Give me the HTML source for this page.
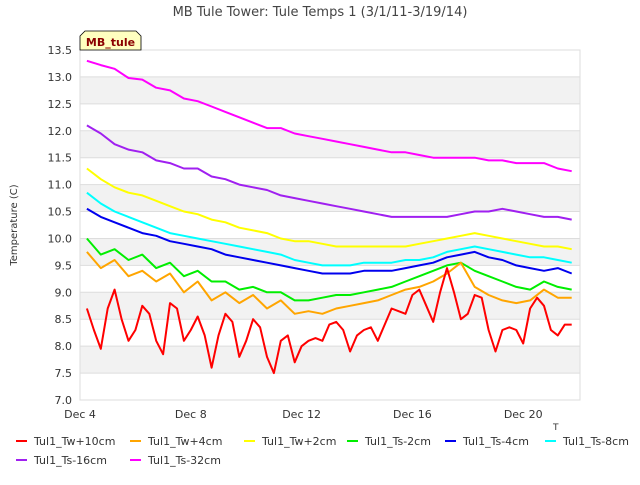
<!DOCTYPE html>
<html><head><meta charset="utf-8"><style>
body{margin:0;background:#fff;font-family:"Liberation Sans","DejaVu Sans",sans-serif}
svg text{font-family:"DejaVu Sans","Liberation Sans",sans-serif}
</style></head><body>
<svg id="c" width="640" height="480" xmlns="http://www.w3.org/2000/svg">
<rect width="640" height="480" fill="#fff"/>
<text x="320" y="16" text-anchor="middle" font-size="13" fill="#444">MB Tule Tower: Tule Temps 1 (3/1/11-3/19/14)</text>
<text transform="translate(17,225) rotate(-90)" text-anchor="middle" font-size="10" fill="#333">Temperature (C)</text>
<g id="grid"></g>
<g id="series"></g>
<g id="legend"></g>
<g>
<path d="M80,50 L80,36 L85,31 L136,31 L141,36 L141,50 Z" fill="#ffffc0" stroke="#000" stroke-width="0.8"/>
<text x="110.5" y="46" text-anchor="middle" font-size="11" font-weight="bold" fill="#8b0000">MB_tule</text>
</g>
<text x="553" y="430" font-size="9" fill="#333">T</text>
</svg>
<script>
const yTicks=[7.0,7.5,8.0,8.5,9.0,9.5,10.0,10.5,11.0,11.5,12.0,12.5,13.0,13.5];
const xTickDays=[0,4,8,12,16];
const xTickLabels=["Dec 4","Dec 8","Dec 12","Dec 16","Dec 20"];
const seriesNames=["Tul1_Tw+10cm","Tul1_Tw+4cm","Tul1_Tw+2cm","Tul1_Ts-2cm","Tul1_Ts-4cm","Tul1_Ts-8cm","Tul1_Ts-16cm","Tul1_Ts-32cm"];
const seriesColors=["#ff0000","#ffa500","#ffff00","#00ee00","#0000ee","#00ffff","#a020f0","#ff00ff"];
const redStart=0.25, redStep=0.25;
const redVals=[8.7,8.3,7.95,8.7,9.05,8.5,8.1,8.3,8.75,8.6,8.1,7.85,8.8,8.7,8.1,8.3,8.55,8.2,7.6,8.2,8.6,8.45,7.8,8.1,8.5,8.35,7.8,7.5,8.1,8.2,7.7,8.0,8.1,8.15,8.1,8.4,8.45,8.3,7.9,8.2,8.3,8.35,8.1,8.4,8.7,8.65,8.6,8.95,9.05,8.75,8.45,9.0,9.45,9.0,8.5,8.6,8.95,8.9,8.3,7.9,8.3,8.35,8.3,8.05,8.7,8.9,8.75,8.3,8.2,8.4,8.4];
const otherStart=0.25, otherStep=0.5;
const tw4=[9.75,9.45,9.6,9.3,9.4,9.2,9.35,9.0,9.2,8.85,9.0,8.8,8.95,8.7,8.85,8.6,8.65,8.6,8.7,8.75,8.8,8.85,8.95,9.05,9.1,9.2,9.35,9.55,9.1,8.95,8.85,8.8,8.85,9.05,8.9,8.9];
const tw2=[11.3,11.1,10.95,10.85,10.8,10.7,10.6,10.5,10.45,10.35,10.3,10.2,10.15,10.1,10.0,9.95,9.95,9.9,9.85,9.85,9.85,9.85,9.85,9.85,9.9,9.95,10.0,10.05,10.1,10.05,10.0,9.95,9.9,9.85,9.85,9.8];
const ts2=[10.0,9.7,9.8,9.6,9.7,9.45,9.55,9.3,9.4,9.2,9.2,9.05,9.1,9.0,9.0,8.85,8.85,8.9,8.95,8.95,9.0,9.05,9.1,9.2,9.3,9.4,9.5,9.55,9.4,9.3,9.2,9.1,9.05,9.2,9.1,9.05];
const ts4=[10.55,10.4,10.3,10.2,10.1,10.05,9.95,9.9,9.85,9.8,9.7,9.65,9.6,9.55,9.5,9.45,9.4,9.35,9.35,9.35,9.4,9.4,9.4,9.45,9.5,9.55,9.65,9.7,9.75,9.65,9.6,9.5,9.45,9.4,9.45,9.35];
const ts8=[10.85,10.65,10.5,10.4,10.3,10.2,10.1,10.05,10.0,9.95,9.9,9.85,9.8,9.75,9.7,9.6,9.55,9.5,9.5,9.5,9.55,9.55,9.55,9.6,9.6,9.65,9.75,9.8,9.85,9.8,9.75,9.7,9.65,9.65,9.6,9.55];
const ts16=[12.1,11.95,11.75,11.65,11.6,11.45,11.4,11.3,11.3,11.15,11.1,11.0,10.95,10.9,10.8,10.75,10.7,10.65,10.6,10.55,10.5,10.45,10.4,10.4,10.4,10.4,10.4,10.45,10.5,10.5,10.55,10.5,10.45,10.4,10.4,10.35];
const ts32=[13.3,13.22,13.15,12.98,12.95,12.8,12.75,12.6,12.55,12.45,12.35,12.25,12.15,12.05,12.05,11.95,11.9,11.85,11.8,11.75,11.7,11.65,11.6,11.6,11.55,11.5,11.5,11.5,11.5,11.45,11.45,11.4,11.4,11.4,11.3,11.25];

const L=80,R=580,T=50,B=400,yMin=7,yMax=13.5,dMax=18.05;
const sx=d=>L+(d/dMax)*(R-L);
const sy=v=>B-(v-yMin)/(yMax-yMin)*(B-T);
const NS="http://www.w3.org/2000/svg";
function mk(tag,attrs,parent){const e=document.createElementNS(NS,tag);for(const k in attrs)e.setAttribute(k,attrs[k]);parent.appendChild(e);return e;}
const grid=document.getElementById('grid');
for(let i=0;i<yTicks.length-1;i++){
  if(i%2===1){const r=mk('rect',{x:L,y:sy(yTicks[i+1]),width:R-L,height:sy(yTicks[i])-sy(yTicks[i+1]),fill:'#f2f2f2'},grid);
  
  }
}
yTicks.forEach(v=>{
  const l=mk('line',{x1:L,x2:R,y1:sy(v),y2:sy(v),stroke:'#dddddd','stroke-width':1},grid);
  
  
  const t=mk('text',{x:L-8,y:sy(v)+4,'text-anchor':'end','font-size':'11',fill:'#333'},grid);
  t.textContent=v.toFixed(1);
  
  
});
const fr=mk('rect',{x:L,y:T,width:R-L,height:B-T,fill:'none',stroke:'#dddddd'},grid);


xTickDays.forEach((d,i)=>{
  const t=mk('text',{x:sx(d),y:B+18,'text-anchor':'middle','font-size':'11',fill:'#333'},grid);
  t.textContent=xTickLabels[i];
  
  
});
const sg=document.getElementById('series');
function draw(vals,start,step,color,name){
  const pts=vals.map((v,i)=>sx(start+i*step).toFixed(1)+','+sy(v).toFixed(1)).join(' ');
  const p=mk('polyline',{points:pts,fill:'none',stroke:color,'stroke-width':2,'stroke-linejoin':'round'},sg);
  
  
}
const others=[tw4,tw2,ts2,ts4,ts8,ts16,ts32];
for(let k=others.length-1;k>=0;k--) draw(others[k],otherStart,otherStep,seriesColors[k+1],'series-'+seriesNames[k+1].toLowerCase().replace(/[^a-z0-9]+/g,'-'));
draw(redVals,redStart,redStep,seriesColors[0],'series-tul1-tw-10cm');
const lg=document.getElementById('legend');
const lgPos=[[16,441],[130,441],[244,441],[347,441],[445,441],[545,441],[16,460],[130,460]];
seriesNames.forEach((n,i)=>{
  const [x,y]=lgPos[i];
  const g=mk('g',{},lg);
  
  
  mk('line',{x1:x,x2:x+11,y1:y,y2:y,stroke:seriesColors[i],'stroke-width':2},g);
  const t=mk('text',{x:x+18,y:y+4,'font-size':'11',fill:'#333'},g);
  t.textContent=n;
});
</script>
</body></html>
